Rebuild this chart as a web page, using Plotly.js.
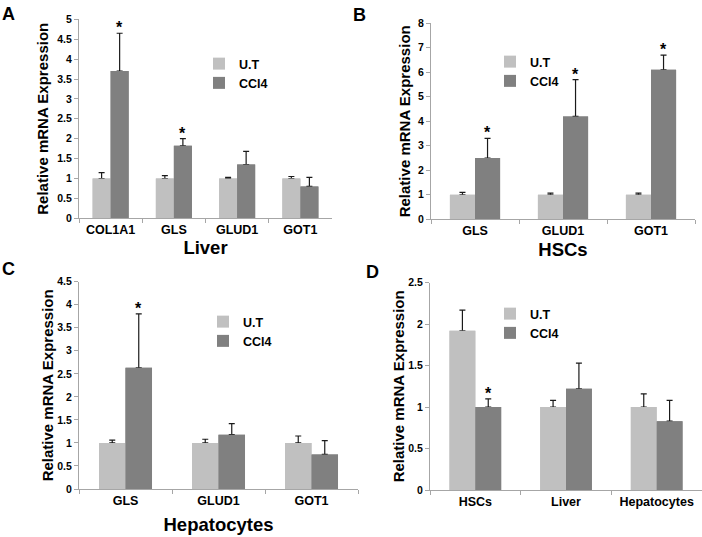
<!DOCTYPE html>
<html>
<head>
<meta charset="utf-8">
<script src="https://cdn.plot.ly/plotly-3.0.1.min.js"></script>
<style>
html,body{margin:0;padding:0;background:#ffffff;}
#chart{width:702px;height:537px;}
</style>
</head>
<body>
<div id="chart"></div>
<script>
// ---------------- data ----------------
const seriesNames = ['U.T', 'CCl4'];

// Panel A : Liver
const liverGenes = ['COL1A1', 'GLS', 'GLUD1', 'GOT1'];
const liverUT = [1, 1, 1, 1];
const liverUTErr = [0.15, 0.07, 0.03, 0.05];
const liverCCl4 = [3.7, 1.82, 1.35, 0.8];
const liverCCl4Err = [0.95, 0.18, 0.33, 0.23];
const liverSig = [true, true, false, false];

// Panel B : HSCs
const hscGenes = ['GLS', 'GLUD1', 'GOT1'];
const hscUT = [1, 1, 1];
const hscUTErr = [0.1, 0.07, 0.07];
const hscCCl4 = [2.5, 4.2, 6.1];
const hscCCl4Err = [0.8, 1.5, 0.6];
const hscSig = [true, true, true];

// Panel C : Hepatocytes
const hepGenes = ['GLS', 'GLUD1', 'GOT1'];
const hepUT = [1, 1, 1];
const hepUTErr = [0.06, 0.08, 0.15];
const hepCCl4 = [2.63, 1.18, 0.75];
const hepCCl4Err = [1.17, 0.24, 0.3];
const hepSig = [true, false, false];

// Panel D : cell types
const cellTypes = ['HSCs', 'Liver', 'Hepatocytes'];
const typeUT = [1.92, 1.0, 1.0];
const typeUTErr = [0.25, 0.08, 0.16];
const typeCCl4 = [1.0, 1.22, 0.83];
const typeCCl4Err = [0.1, 0.31, 0.25];
const typeSig = [true, false, false];

const panelLetters = ['A', 'B', 'C', 'D'];
const xTitles = ['Liver', 'HSCs', 'Hepatocytes', ''];
const yTitle = 'Relative mRNA Expression';
const yMax = [5, 8, 4.5, 2.5];
const yStep = [0.5, 1, 0.5, 0.5];

// ---------------- style ----------------
const FONT = '"Liberation Sans", Arial, sans-serif';
const UT_COLOR = '#c0c0c0';
const CC_COLOR = '#808080';
const AX_COLOR = '#a6a6a6';
const ERR_COLOR = '#1a1a1a';
const BARGAP = 0.43;

const panels = [
  {cats: liverGenes, ut: liverUT, utErr: liverUTErr, cc: liverCCl4, ccErr: liverCCl4Err, sig: liverSig,
   xdom: [79/702, 332/702], ydom: [1-218.3/537, 1-19.3/537], xStand: 2, yStand: 5,
   leg: {x: 199/702, y: 1-49/537}, letter: [8.5, 14.5]},
  {cats: hscGenes, ut: hscUT, utErr: hscUTErr, cc: hscCCl4, ccErr: hscCCl4Err, sig: hscSig,
   xdom: [431/702, 695/702], ydom: [1-219.3/537, 1-23.3/537], xStand: 5, yStand: 3,
   leg: {x: 490/702, y: 1-47/537}, letter: [360, 15]},
  {cats: hepGenes, ut: hepUT, utErr: hepUTErr, cc: hepCCl4, ccErr: hepCCl4Err, sig: hepSig,
   xdom: [79/702, 358/702], ydom: [1-489/537, 1-281.7/537], xStand: 11, yStand: 0,
   leg: {x: 203/702, y: 1-307/537}, letter: [8, 268.5]},
  {cats: cellTypes, ut: typeUT, utErr: typeUTErr, cc: typeCCl4, ccErr: typeCCl4Err, sig: typeSig,
   xdom: [430/702, 1], ydom: [1-490/537, 1-282.7/537], xStand: 0, yStand: 0,
   leg: {x: 490/702, y: 1-299/537}, letter: [372, 271.5]}
];

const traces = [];
const annotations = [];
const layout = {
  width: 702, height: 537,
  margin: {l: 0, r: 0, t: 0, b: 0},
  paper_bgcolor: '#ffffff', plot_bgcolor: '#ffffff',
  barmode: 'group', bargap: BARGAP, bargroupgap: 0,
  font: {family: FONT, color: '#000000'},
  showlegend: true,
  annotations: annotations
};

panels.forEach(function (p, i) {
  const n = i === 0 ? '' : String(i + 1);
  const xa = 'x' + n, ya = 'y' + n;
  const lg = 'legend' + n;
  const ag = 'panel' + i;
  const zeros = p.cats.map(function () { return 0; });
  const errStyle = {type: 'data', symmetric: false, arrayminus: zeros, color: ERR_COLOR, thickness: 1.2, width: 3};

  // error-bar carriers (drawn underneath the visible bars)
  traces.push({type: 'bar', x: p.cats, y: p.ut, xaxis: xa, yaxis: ya, alignmentgroup: ag, offsetgroup: 'ut',
    marker: {color: UT_COLOR}, error_y: Object.assign({array: p.utErr}, errStyle),
    showlegend: false, hoverinfo: 'skip', legend: lg});
  traces.push({type: 'bar', x: p.cats, y: p.cc, xaxis: xa, yaxis: ya, alignmentgroup: ag, offsetgroup: 'cc',
    marker: {color: CC_COLOR}, error_y: Object.assign({array: p.ccErr}, errStyle),
    showlegend: false, hoverinfo: 'skip', legend: lg});
  // visible bars
  traces.push({type: 'bar', name: seriesNames[0], x: p.cats, y: p.ut, xaxis: xa, yaxis: ya,
    alignmentgroup: ag, offsetgroup: 'ut', marker: {color: UT_COLOR}, legend: lg});
  traces.push({type: 'bar', name: seriesNames[1], x: p.cats, y: p.cc, xaxis: xa, yaxis: ya,
    alignmentgroup: ag, offsetgroup: 'cc', marker: {color: CC_COLOR}, legend: lg});

  layout['xaxis' + n] = {
    domain: p.xdom, anchor: ya, type: 'category',
    tickson: 'boundaries', ticks: 'outside', ticklen: 4, tickcolor: AX_COLOR, tickwidth: 1,
    showline: true, linecolor: AX_COLOR, linewidth: 1, showgrid: false, zeroline: false,
    tickfont: {family: FONT, size: 12.5, weight: 'bold', color: '#000000'},
    title: {text: xTitles[i], standoff: p.xStand, font: {family: FONT, size: 18.5, weight: 'bold', color: '#000000'}},
    fixedrange: true
  };
  layout['yaxis' + n] = {
    domain: p.ydom, anchor: xa, range: [0, yMax[i]], tick0: 0, dtick: yStep[i],
    ticks: 'outside', ticklen: 4, tickcolor: AX_COLOR, tickwidth: 1,
    showline: true, linecolor: AX_COLOR, linewidth: 1, showgrid: false, zeroline: false,
    tickfont: {family: FONT, size: 10.5, weight: 'bold', color: '#000000'},
    title: {text: yTitle, standoff: p.yStand, font: {family: FONT, size: 15, weight: 'bold', color: '#000000'}},
    fixedrange: true
  };
  layout[lg] = {
    x: p.leg.x, y: p.leg.y, xanchor: 'left', yanchor: 'top',
    bgcolor: 'rgba(0,0,0,0)', borderwidth: 0,
    font: {family: FONT, size: 12.5, weight: 'bold', color: '#000000'},
    itemwidth: 30, tracegroupgap: 0
  };

  // significance stars above the CCl4 bars
  const ccOffset = (1 - BARGAP) / 4;
  p.sig.forEach(function (s, k) {
    if (!s) return;
    annotations.push({
      xref: xa, yref: ya, x: k + ccOffset, y: p.cc[k] + p.ccErr[k],
      text: '*', showarrow: false, xanchor: 'center', yanchor: 'bottom', yshift: -5,
      font: {family: FONT, size: 16, weight: 'bold', color: '#000000'}
    });
  });

  // panel letter
  annotations.push({
    xref: 'paper', yref: 'paper', x: p.letter[0] / 702, y: 1 - p.letter[1] / 537,
    xanchor: 'center', yanchor: 'middle', showarrow: false, text: panelLetters[i],
    font: {family: FONT, size: 18, weight: 'bold', color: '#000000'}
  });
});

Plotly.newPlot('chart', traces, layout, {displayModeBar: false, staticPlot: true});
</script>
</body>
</html>
